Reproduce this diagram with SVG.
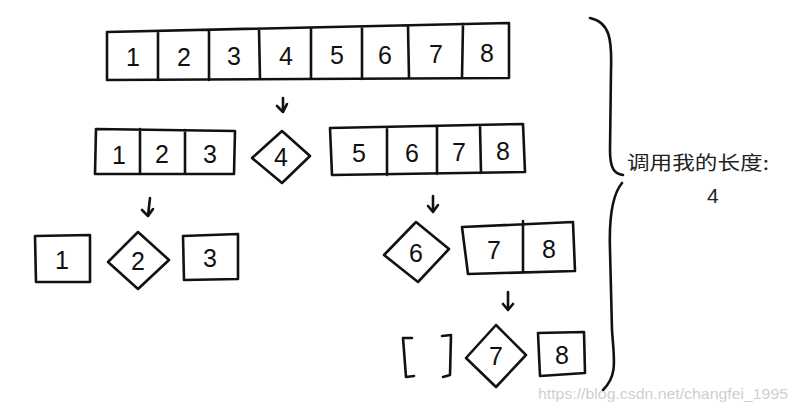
<svg xmlns="http://www.w3.org/2000/svg" width="798" height="413" viewBox="0 0 798 413">
<defs>
<style>
.s{fill:none;stroke:#111;stroke-width:2.6;stroke-linejoin:round;stroke-linecap:round}
.n{font-family:"Liberation Sans","DejaVu Sans",sans-serif;font-size:25px;fill:#111;text-anchor:middle}
.c{font-family:"Noto Sans CJK SC","DejaVu Sans",sans-serif;font-size:19px;fill:#222}
.w{font-family:"Liberation Sans","DejaVu Sans",sans-serif;font-size:15px;fill:#cfcfcf}
</style>
</defs>
<rect width="798" height="413" fill="#fff"/>
<g id="row1">
<path class="s" d="M107 32 L509 23 L509 78 L107 80 Z M158 31 L158 80 M209 30 L209 80 M259 29 L260 79 M311 28 L311 79 M362 27 L362 79 M408 26 L409 78 M463 24 L462 78"/>
<text class="n" x="133" y="66">1</text><text class="n" x="184" y="66">2</text><text class="n" x="234" y="65">3</text><text class="n" x="286" y="65">4</text><text class="n" x="337" y="64">5</text><text class="n" x="385" y="64">6</text><text class="n" x="436" y="63">7</text><text class="n" x="487" y="62">8</text>
</g>
<g id="left123">
<path class="s" d="M96 129 L235 131 L234 174 L95 174 Z M140 129 L140 174 M185 130 L185 174"/>
<text class="n" x="119" y="164">1</text><text class="n" x="162" y="163">2</text><text class="n" x="210" y="163">3</text>
</g>
<g id="pivot4">
<path class="s" d="M282 131 L310 156 L282 183 L252 158 Z"/>
<text class="n" x="281" y="166">4</text>
</g>
<g id="right5678">
<path class="s" d="M330 128 L523 124 L525 172 L332 175 Z M387 127 L387 175 M437 126 L437 174 M480 125 L481 173"/>
<text class="n" x="359" y="162">5</text><text class="n" x="412" y="162">6</text><text class="n" x="459" y="161">7</text><text class="n" x="503" y="160">8</text>
</g>
<g id="box1"><path class="s" d="M35 236 L90 235 L90 282 L36 282 Z"/><text class="n" x="62" y="269">1</text></g>
<g id="pivot2"><path class="s" d="M138 232 L169 260 L138 289 L108 262 Z"/><text class="n" x="138" y="270">2</text></g>
<g id="box3"><path class="s" d="M183 236 L238 234 L238 279 L184 280 Z"/><text class="n" x="210" y="267">3</text></g>
<g id="pivot6"><path class="s" d="M416 222 L449 249 L418 282 L384 255 Z"/><text class="n" x="416" y="262">6</text></g>
<g id="box78"><path class="s" d="M462 227 L573 222 L575 271 L468 274 Z M523 221 L523 272"/>
<text class="n" x="494" y="259">7</text><text class="n" x="549" y="258">8</text></g>
<g id="empty"><path class="s" d="M412 338 L403 338 L406 377 L414 376 M442 336 L451 335 L450 375 L443 377"/></g>
<g id="pivot7"><path class="s" d="M496 325 L526 355 L496 387 L466 358 Z"/><text class="n" x="496" y="365">7</text></g>
<g id="box8"><path class="s" d="M538 333 L584 332 L585 373 L540 376 Z"/><text class="n" x="562" y="364">8</text></g>
<g id="connectors">
<path class="s" d="M283 98 L283 112 M277 106 L283 112 L287 104"/>
<path class="s" d="M150 198 L148 216 M142 210 L148 216 L153 209"/>
<path class="s" d="M433 196 L433 212 M428 206 L433 212 L438 205"/>
<path class="s" d="M508 292 L508 310 M503 304 L508 310 L513 304"/>
</g>
<g id="brace">
<path class="s" d="M590 18 C610 22 612 40 611 70 L610 150 C610 168 614 174 623 175 M622 183 C612 195 609 220 610 250 L612 330 C614 360 618 375 603 390"/>
<text class="c" x="627" y="170" textLength="142" lengthAdjust="spacingAndGlyphs">调用我的长度:</text>
<text class="c" x="707" y="203" style="font-size:21px;font-family:'Liberation Sans',sans-serif">4</text>
</g>
<text class="w" x="538" y="399" textLength="250" lengthAdjust="spacingAndGlyphs">https://blog.csdn.net/changfei_1995</text>
</svg>
